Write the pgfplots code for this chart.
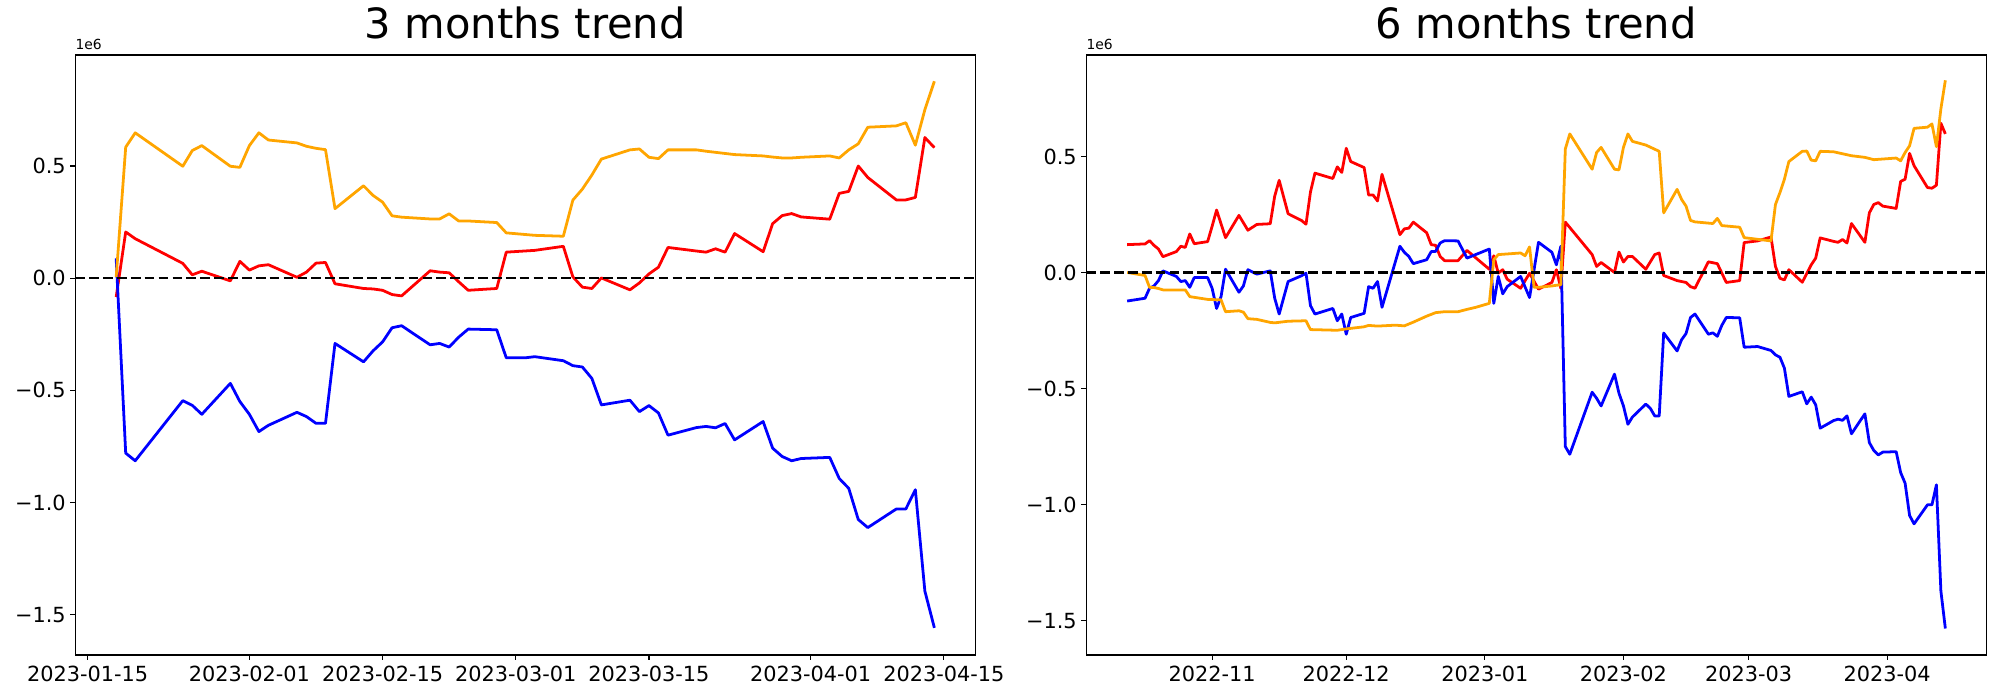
\documentclass[border=0pt]{standalone}
\usepackage{fontspec}
\setmainfont{DejaVu Sans}
\usepackage{pgfplots}
\pgfplotsset{compat=1.18}
\definecolor{mplorange}{HTML}{FFA500}
\definecolor{mplred}{HTML}{FF0000}
\definecolor{mplblue}{HTML}{0000FF}
\pgfplotsset{trend/.style={
  scale only axis, width=648bp, height=432bp, anchor=south west,
  axis line style={line width=0.8bp},
  tick style={line width=0.8bp, black},
  tick align=outside, major tick length=3.5bp,
  xtick pos=bottom, ytick pos=left, minor tick num=0,
  ticklabel style={font=\fontsize{15bp}{18bp}\selectfont, inner sep=0pt},
  xticklabel shift=4.4bp, yticklabel shift=3.2bp,
  /pgf/number format/assume math mode=true,
  ytick={-1.5,-1,-0.5,0,0.5},
  yticklabels={−1.5,−1.0,−0.5,0.0,0.5},
  title style={font=\fontsize{30bp}{36bp}\selectfont, anchor=base, yshift=6bp},
  every axis plot/.append style={line width=2bp, line join=round, mark=none},
  clip=true,
}}
\begin{document}
\begin{tikzpicture}
\path[use as bounding box] (0,0) rectangle (1440bp,504bp);
% ---------------- left: 3 months ----------------
\begin{axis}[trend, name=L, at={(54.2bp,32.4bp)},
  xmin=-1.3, xmax=93.3, ymin=-1.68, ymax=0.995,
  xtick={0,17,31,45,59,76,90},
  xticklabels={2023-01-15,2023-02-01,2023-02-15,2023-03-01,2023-03-15,2023-04-01,2023-04-15},
  title={3 months trend}]
\addplot[mplred] coordinates {(3,-0.084)(4,0.206)(5,0.176)(10,0.066)(11,0.015)(12,0.031)(15,-0.012)(16,0.075)(17,0.036)(18,0.055)(19,0.060)(22,0.004)(23,0.027)(24,0.067)(25,0.070)(26,-0.025)(29,-0.046)(30,-0.048)(31,-0.054)(32,-0.073)(33,-0.079)(36,0.033)(37,0.027)(38,0.024)(39,-0.016)(40,-0.054)(43,-0.046)(44,0.116)(47,0.124)(50,0.142)(51,0.006)(52,-0.040)(53,-0.046)(54,0.001)(57,-0.052)(58,-0.021)(59,0.019)(60,0.049)(61,0.137)(64,0.121)(65,0.116)(66,0.131)(67,0.116)(68,0.199)(71,0.118)(72,0.243)(73,0.279)(74,0.288)(75,0.273)(78,0.263)(79,0.378)(80,0.387)(81,0.500)(82,0.449)(85,0.349)(86,0.349)(87,0.360)(88,0.627)(89,0.582)};
\addplot[mplblue] coordinates {(3,0.088)(4,-0.780)(5,-0.814)(10,-0.546)(11,-0.567)(12,-0.607)(15,-0.469)(16,-0.550)(17,-0.607)(18,-0.684)(19,-0.656)(22,-0.598)(23,-0.617)(24,-0.647)(25,-0.647)(26,-0.291)(29,-0.373)(30,-0.324)(31,-0.284)(32,-0.221)(33,-0.212)(36,-0.297)(37,-0.291)(38,-0.307)(39,-0.263)(40,-0.227)(43,-0.230)(44,-0.355)(46,-0.355)(47,-0.350)(50,-0.368)(51,-0.390)(52,-0.396)(53,-0.447)(54,-0.565)(57,-0.544)(58,-0.595)(59,-0.568)(60,-0.601)(61,-0.700)(64,-0.666)(65,-0.661)(66,-0.667)(67,-0.648)(68,-0.721)(71,-0.639)(72,-0.758)(73,-0.795)(74,-0.814)(75,-0.804)(78,-0.799)(79,-0.893)(80,-0.937)(81,-1.076)(82,-1.112)(85,-1.029)(86,-1.029)(87,-0.943)(88,-1.395)(89,-1.559)};
\addplot[mplorange] coordinates {(3,0.005)(4,0.584)(5,0.648)(10,0.499)(11,0.569)(12,0.591)(15,0.499)(16,0.494)(17,0.591)(18,0.648)(19,0.616)(22,0.603)(23,0.588)(24,0.579)(25,0.573)(26,0.310)(29,0.412)(30,0.369)(31,0.339)(32,0.278)(33,0.272)(36,0.264)(37,0.264)(38,0.287)(39,0.255)(40,0.255)(43,0.248)(44,0.202)(47,0.191)(50,0.187)(51,0.348)(52,0.397)(53,0.460)(54,0.531)(57,0.572)(58,0.576)(59,0.539)(60,0.533)(61,0.572)(64,0.572)(65,0.566)(66,0.561)(67,0.556)(68,0.551)(71,0.545)(72,0.540)(73,0.536)(74,0.536)(75,0.539)(78,0.545)(79,0.536)(80,0.572)(81,0.599)(82,0.673)(85,0.679)(86,0.693)(87,0.593)(88,0.751)(89,0.878)};
\addplot[black, line width=1.5bp, dash pattern=on 7bp off 3bp] coordinates {(-1.3,0)(93.3,0)};
\end{axis}
\node[anchor=south west, inner sep=0pt, font=\fontsize{10bp}{12bp}\selectfont] at ([yshift=3.5bp]L.north west) {1e6};
% ---------------- right: 6 months ----------------
\begin{axis}[trend, name=R, at={(782.1bp,32.4bp)},
  xmin=-28.15, xmax=173.15, ymin=-1.648, ymax=0.937,
  xtick={0,30,61,92,120,151},
  xticklabels={2022-11,2022-12,2023-01,2023-02,2023-03,2023-04},
  title={6 months trend}]
\addplot[mplred] coordinates {(-19,0.120)(-15,0.123)(-14,0.137)(-13,0.117)(-12,0.101)(-11,0.068)(-8,0.090)(-7,0.113)(-6,0.108)(-5,0.166)(-4,0.124)(-1,0.133)(0,0.199)(1,0.269)(3,0.150)(6,0.246)(8,0.182)(10,0.207)(13,0.210)(14,0.329)(15,0.397)(17,0.253)(20,0.224)(21,0.208)(22,0.347)(23,0.428)(27,0.405)(28,0.455)(29,0.431)(30,0.535)(31,0.478)(34,0.452)(35,0.334)(36,0.334)(37,0.308)(38,0.423)(42,0.163)(43,0.188)(44,0.191)(45,0.217)(48,0.171)(49,0.120)(50,0.117)(51,0.069)(52,0.051)(55,0.051)(57,0.095)(62,0.014)(63,0.072)(64,-0.003)(65,0.012)(66,-0.029)(69,-0.068)(71,-0.003)(73,-0.072)(76,-0.043)(77,0.012)(78,-0.068)(79,0.217)(85,0.077)(86,0.026)(87,0.043)(90,0.000)(91,0.088)(92,0.045)(93,0.069)(94,0.069)(97,0.014)(99,0.077)(100,0.084)(101,-0.013)(104,-0.035)(106,-0.043)(107,-0.061)(108,-0.068)(111,0.046)(113,0.038)(115,-0.043)(118,-0.035)(119,0.129)(122,0.136)(125,0.153)(126,0.026)(127,-0.025)(128,-0.032)(129,0.012)(132,-0.042)(134,0.033)(135,0.062)(136,0.149)(139,0.134)(140,0.130)(141,0.142)(142,0.127)(143,0.211)(146,0.130)(147,0.257)(148,0.293)(149,0.301)(150,0.286)(153,0.276)(154,0.392)(155,0.402)(156,0.513)(157,0.460)(160,0.366)(161,0.363)(162,0.376)(163,0.643)(164,0.597)};
\addplot[mplblue] coordinates {(-19,-0.123)(-15,-0.111)(-14,-0.068)(-13,-0.058)(-12,-0.035)(-11,0.007)(-8,-0.017)(-7,-0.039)(-6,-0.035)(-5,-0.064)(-4,-0.022)(-1,-0.022)(0,-0.068)(1,-0.155)(2,-0.104)(3,0.014)(6,-0.085)(7,-0.058)(8,0.012)(10,-0.007)(13,0.007)(14,-0.111)(15,-0.179)(17,-0.039)(20,-0.014)(21,-0.003)(22,-0.143)(23,-0.179)(27,-0.155)(28,-0.208)(29,-0.179)(30,-0.266)(31,-0.194)(34,-0.176)(35,-0.061)(36,-0.068)(37,-0.039)(38,-0.150)(42,0.113)(43,0.087)(44,0.069)(45,0.038)(48,0.055)(49,0.090)(50,0.091)(51,0.127)(52,0.137)(55,0.136)(57,0.062)(62,0.101)(63,-0.133)(64,-0.017)(65,-0.092)(66,-0.061)(69,-0.017)(71,-0.108)(73,0.130)(76,0.087)(77,0.033)(78,0.113)(79,-0.750)(80,-0.783)(85,-0.516)(86,-0.542)(87,-0.575)(90,-0.438)(91,-0.520)(92,-0.575)(93,-0.654)(94,-0.623)(97,-0.567)(98,-0.585)(99,-0.618)(100,-0.618)(101,-0.261)(104,-0.338)(105,-0.290)(106,-0.263)(107,-0.194)(108,-0.179)(111,-0.266)(112,-0.260)(113,-0.275)(114,-0.228)(115,-0.194)(118,-0.195)(119,-0.322)(122,-0.319)(125,-0.336)(126,-0.355)(127,-0.365)(128,-0.412)(129,-0.534)(132,-0.514)(133,-0.566)(134,-0.537)(135,-0.570)(136,-0.671)(139,-0.638)(140,-0.632)(141,-0.637)(142,-0.618)(143,-0.695)(146,-0.609)(147,-0.733)(148,-0.767)(149,-0.786)(150,-0.774)(153,-0.772)(154,-0.862)(155,-0.908)(156,-1.047)(157,-1.083)(160,-1.001)(161,-1.001)(162,-0.915)(163,-1.372)(164,-1.534)};
\addplot[mplorange] coordinates {(-19,0.000)(-18,-0.003)(-15,-0.013)(-14,-0.064)(-13,-0.065)(-12,-0.069)(-11,-0.075)(-6,-0.075)(-5,-0.104)(-4,-0.107)(-1,-0.116)(2,-0.118)(3,-0.169)(6,-0.165)(7,-0.171)(8,-0.199)(10,-0.202)(13,-0.215)(14,-0.217)(17,-0.210)(21,-0.208)(22,-0.246)(28,-0.249)(30,-0.243)(34,-0.234)(35,-0.228)(37,-0.231)(41,-0.227)(43,-0.230)(45,-0.214)(48,-0.188)(50,-0.173)(52,-0.169)(55,-0.169)(57,-0.159)(59,-0.150)(62,-0.133)(63,0.055)(64,0.077)(69,0.084)(70,0.072)(71,0.110)(72,-0.064)(73,-0.064)(76,-0.058)(77,-0.055)(78,-0.053)(79,0.532)(80,0.597)(85,0.445)(86,0.517)(87,0.539)(90,0.445)(91,0.442)(92,0.539)(93,0.597)(94,0.565)(97,0.549)(100,0.522)(101,0.257)(104,0.358)(105,0.315)(106,0.286)(107,0.224)(108,0.218)(112,0.211)(113,0.233)(114,0.202)(118,0.195)(119,0.150)(125,0.136)(126,0.293)(127,0.344)(128,0.402)(129,0.478)(132,0.522)(133,0.523)(134,0.484)(135,0.481)(136,0.522)(139,0.520)(143,0.503)(146,0.496)(148,0.486)(153,0.493)(154,0.481)(155,0.517)(156,0.546)(157,0.621)(160,0.626)(161,0.640)(162,0.542)(163,0.705)(164,0.828)};
\addplot[black, line width=1.5bp, dash pattern=on 7bp off 3bp] coordinates {(-28.15,0)(173.15,0)};
\end{axis}
\node[anchor=south west, inner sep=0pt, font=\fontsize{10bp}{12bp}\selectfont] at ([yshift=3.5bp]R.north west) {1e6};
\end{tikzpicture}
\end{document}
